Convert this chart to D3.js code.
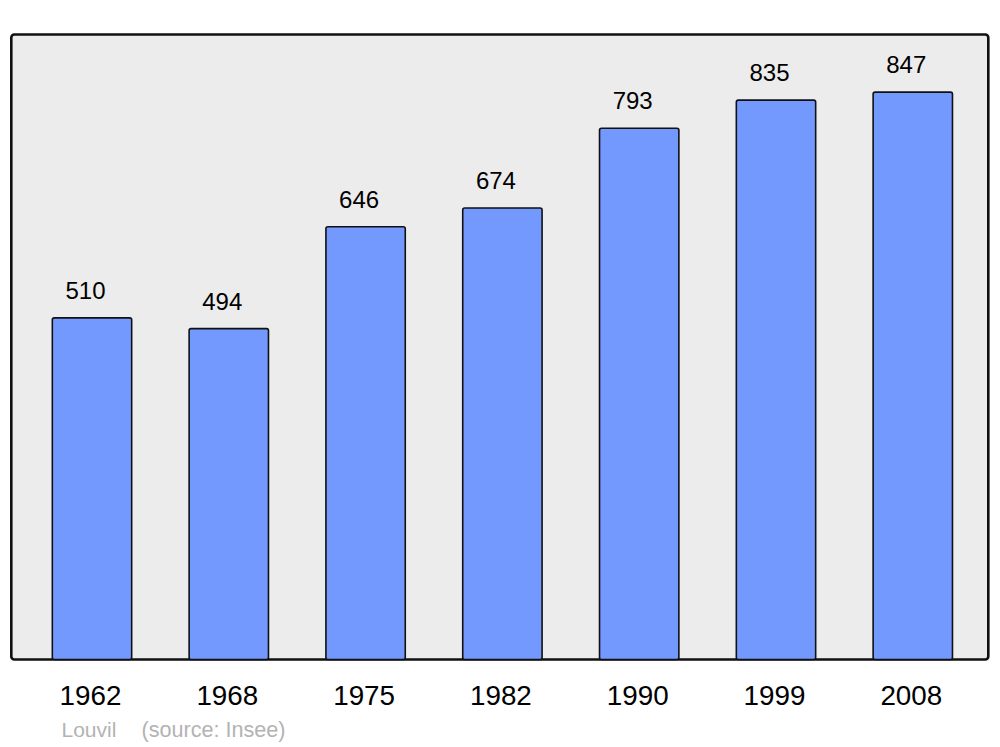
<!DOCTYPE html>
<html><head><meta charset="utf-8">
<script src="https://cdn.jsdelivr.net/npm/d3@7"></script>
<style>body{margin:0;background:#fff}svg{display:block}</style>
</head><body>
<svg id="chart" width="1000" height="747"></svg>
<script>
const years = ["1962","1968","1975","1982","1990","1999","2008"];
const population = [510, 494, 646, 674, 793, 835, 847];
const townName = "Louvil";
const sourceText = "(source: Insee)";

const svg = d3.select("#chart");
const panel = {x: 11.3, y: 34.5, w: 977, h: 625};
const base = panel.y + panel.h;

svg.append("rect")
  .attr("x", panel.x).attr("y", panel.y).attr("width", panel.w).attr("height", panel.h)
  .attr("rx", 3).attr("ry", 3)
  .attr("fill", "#ececec").attr("stroke", "#111").attr("stroke-width", 2.6);

const x = d3.scaleBand().domain(years).range([23.6, 981.2]).paddingInner(0.42).paddingOuter(0.21);
const y = d3.scaleLinear().domain([0, 933]).range([base, panel.y]);

svg.selectAll("rect.bar").data(population).join("rect")
  .attr("class", "bar")
  .attr("x", (d, i) => x(years[i]))
  .attr("y", d => y(d))
  .attr("width", x.bandwidth())
  .attr("height", d => base - y(d))
  .attr("rx", 2).attr("ry", 2)
  .attr("fill", "#7399ff").attr("stroke", "#111").attr("stroke-width", 1.6);

svg.selectAll("text.val").data(population).join("text")
  .attr("class", "val")
  .attr("x", (d, i) => x(years[i]) + x.bandwidth() / 2 - 6.5)
  .attr("y", d => y(d) - 19)
  .attr("text-anchor", "middle")
  .attr("font-family", "Liberation Sans, Arial, sans-serif")
  .attr("font-size", 24).attr("fill", "#000")
  .text(d => d);

svg.selectAll("text.year").data(years).join("text")
  .attr("class", "year")
  .attr("x", d => x(d) + x.bandwidth() / 2 - 1.5)
  .attr("y", 705)
  .attr("text-anchor", "middle")
  .attr("font-family", "Liberation Sans, Arial, sans-serif")
  .attr("font-size", 27.8).attr("fill", "#000")
  .text(d => d);

svg.append("text")
  .attr("x", 61.5).attr("y", 737)
  .attr("font-family", "Liberation Sans, Arial, sans-serif")
  .attr("font-size", 21).attr("fill", "#b3b3b3")
  .text(townName);

svg.append("text")
  .attr("x", 141.5).attr("y", 737)
  .attr("font-family", "Liberation Sans, Arial, sans-serif")
  .attr("font-size", 21.6).attr("fill", "#b3b3b3")
  .text(sourceText);
</script>
</body></html>
